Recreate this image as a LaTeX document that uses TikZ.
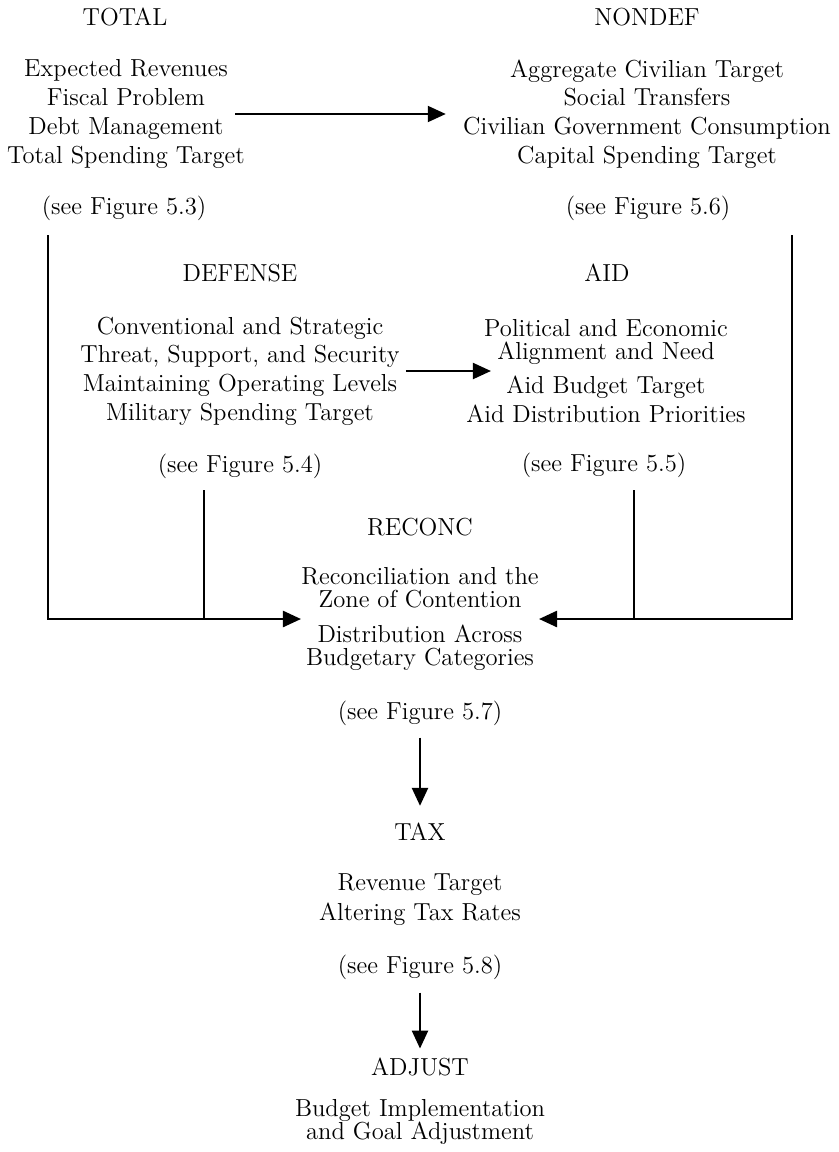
\documentclass[tikz,border=0pt]{standalone}
\usetikzlibrary{arrows.meta}
\begin{document}
\begin{tikzpicture}[x=0.5pt,y=-0.5pt,
 every node/.style={font=\fontsize{12.3}{11.6}\selectfont,align=center,inner sep=0pt},
 line/.style={line width=1.2pt},
 arr/.style={line width=1.2pt,-{Triangle[length=9pt,width=8pt]}}]
\useasboundingbox (0,0) rectangle (839,1152);
\node (total) at (125,17) {TOTAL};
\node (totalbody) at (126,114) {Expected Revenues\\[2.75pt]Fiscal Problem\\[2.75pt]Debt Management\\[2.75pt]Total Spending Target};
\node (totalref) at (124,208) {(see Figure 5.3)};
\node (nondef) at (647,17) {NONDEF};
\node (nondefbody) at (647,114) {Aggregate Civilian Target\\[2.75pt]Social Transfers\\[2.75pt]Civilian Government Consumption\\[2.75pt]Capital Spending Target};
\node (nondefref) at (648,208) {(see Figure 5.6)};
\node (defense) at (240,273) {DEFENSE};
\node (defensebody) at (240,371) {Conventional and Strategic\\[2.75pt]Threat, Support, and Security\\[2.75pt]Maintaining Operating Levels\\[2.75pt]Military Spending Target};
\node (defref) at (240,466) {(see Figure 5.4)};
\node (aid) at (607,273) {AID};
\node (aidbody) at (606,371) {Political and Economic\\Alignment and Need\\[5.5pt]Aid Budget Target\\[2.75pt]Aid Distribution Priorities};
\node (aidref) at (604,465) {(see Figure 5.5)};
\node (reconc) at (420,527) {RECONC};
\node (reconcbody) at (420,619) {Reconciliation and the\\Zone of Contention\\[5.5pt]Distribution Across\\Budgetary Categories};
\node (reconcref) at (420,713) {(see Figure 5.7)};
\node (tax) at (420,832) {TAX};
\node (taxbody) at (420,900) {Revenue Target\\[3.5pt]Altering Tax Rates};
\node (taxref) at (420,967) {(see Figure 5.8)};
\node (adjust) at (420,1067) {ADJUST};
\node (adjustbody) at (420,1122) {Budget Implementation\\and Goal Adjustment};
\coordinate (totaldrop) at (48,235);
\coordinate (defdrop) at (204,490);
\coordinate (aiddrop) at (634,490);
\coordinate (nondefdrop) at (792,235);
\draw[arr,line width=1pt] ([xshift=-5pt]totalbody.east) -- ([xshift=-8.5pt]nondefbody.west);
\draw[arr,line width=1pt] ([xshift=3pt]defensebody.east) -- ([xshift=12.5pt]aidbody.west);
\draw[arr] (totaldrop) |- (reconcbody.west);
\draw[line] (defdrop) -- (defdrop |- reconcbody.west);
\draw[arr] (nondefdrop) |- (reconcbody.east);
\draw[line] (aiddrop) -- (aiddrop |- reconcbody.east);
\draw[arr,shorten <=6pt,shorten >=8.5pt] (reconcref.south) -- (tax.north);
\draw[arr,shorten <=6.5pt,shorten >=4.5pt] (taxref.south) -- (adjust.north);
\end{tikzpicture}
\end{document}
